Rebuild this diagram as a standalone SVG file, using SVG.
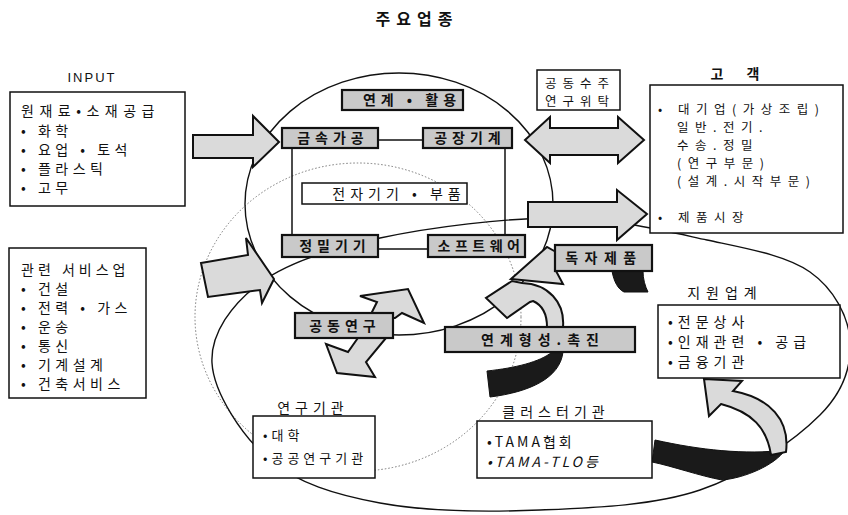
<svg xmlns="http://www.w3.org/2000/svg" width="848" height="515" viewBox="0 0 848 515">
<defs>
<style>
text{font-family:"Noto Sans CJK KR","Noto Sans",sans-serif;fill:#111;font-size:14px}
.t{font-weight:bold;font-size:16px;letter-spacing:6px}
.lb{font-size:14px;letter-spacing:4.5px}
.sm{font-size:12.5px;letter-spacing:6.5px}
.bx{fill:#fff;stroke:#111;stroke-width:1.5}
.gb{fill:#c9c9c9;stroke:#111;stroke-width:2.2}
.gt{font-weight:bold;font-size:14px;letter-spacing:5px;text-anchor:middle}
.ar{fill:#dadada;stroke:#111;stroke-width:2;stroke-linejoin:miter}
.el{fill:none;stroke:#111;stroke-width:1.4}
.dt{fill:none;stroke:#777;stroke-width:1;stroke-dasharray:1.5 2}
.ln{stroke:#111;stroke-width:1.5;fill:none}
.blk{fill:#1a1a1a;stroke:#111;stroke-width:1}
</style>
</defs>
<rect width="848" height="515" fill="#fff"/>
<text x="417" y="25" class="t" text-anchor="middle">주요업종</text>

<g id="connectors">
<ellipse class="dt" cx="358" cy="317" rx="163" ry="154"/>
<ellipse class="el" cx="399" cy="204" rx="154" ry="131"/>
<path class="el" d="M212,363 C210.3,333.5 232,303.8 260,283 C288,262.2 330,248.8 380,238 C430,227.2 505.5,217.7 560,218 C614.5,218.3 665.3,231 707,240 C748.7,249 786.2,255.3 810,272 C833.8,288.7 848.3,316.2 850,340 C851.7,363.8 845,390 820,415 C795,440 746.7,474.2 700,490 C653.3,505.8 593.3,507.8 540,510 C486.7,512.2 425,511.3 380,503 C335,494.7 298,483.3 270,460 C242,436.7 213.7,392.5 212,363 Z"/>
<line class="ln" x1="378" y1="140" x2="423" y2="140"/>
<line class="ln" x1="292" y1="148" x2="292" y2="235"/>
<line class="ln" x1="505" y1="148" x2="505" y2="235"/>
<line class="ln" x1="378" y1="249" x2="428" y2="249"/>
<polygon class="ar" points="193,135 253,135 253,116 279,142 253,167 253,158 193,158"/>
<polygon class="ar" points="201,263 248,255 246,238 274,279 262,303 260,290 208,297"/>
<polygon class="ar" points="525,140 550,117 550,128 618,128 618,117 644,140 618,163 618,155 550,155 550,163"/>
<polygon class="ar" points="528,202 617,202 617,190 647,214 617,240 617,227 528,227"/>
<polygon class="ar" points="369,318 377,302 360,296 408,289 424,323 402,313 395,318"/>
<polygon class="ar" points="360,335 348,352 326,344 337,373 375,377 366,362 386,338"/>
<path class="blk" d="M612,271 C614,282 618,289 624,292 L648,292 C645,286 643,279 643,271 Z"/>
<path class="ar" d="M556,252 L547,247 L511,279 L563,284 L556,271 Z"/>
<path class="blk" d="M487,371 C515,368 540,362 552,352 L563,352 C560,378 530,392 490,397 Z"/>
<path class="ar" d="M563,327 C565,302 548,284 522,283 L512,281 L486,298 L507,318 L530,302 L533,301 C542,305 547,314 547,327 Z"/>
<path class="blk" d="M655,440 C700,450 745,455 785,450 C775,465 745,478 722,480 C700,476 672,466 652,462 Z"/>
<path class="ar" d="M786,452 C790,420 770,398 733,391 L742,381 L704,379 L709,416 L721,404 C752,412 767,428 771,455 Z"/>
</g>

<g id="input">
<text x="92" y="82" text-anchor="middle" style="font-family:'Liberation Sans',sans-serif;font-size:13px;letter-spacing:2px">INPUT</text>
<rect class="bx" x="10" y="92" width="175" height="114"/>
<text class="lb" x="21" y="116" style="letter-spacing:5.5px">원재료•소재공급</text>
<text class="lb" x="21" y="136">• 화학</text>
<text class="lb" x="21" y="155">• 요업 • 토석</text>
<text class="lb" x="21" y="174">• 플라스틱</text>
<text class="lb" x="21" y="193">• 고무</text>
</g>

<g id="services">
<rect class="bx" x="9" y="248" width="137" height="150"/>
<text class="lb" x="21" y="275" style="letter-spacing:4px">관련 서비스업</text>
<text class="lb" x="21" y="294">• 건설</text>
<text class="lb" x="21" y="313">• 전력 • 가스</text>
<text class="lb" x="21" y="332">• 운송</text>
<text class="lb" x="21" y="351">• 통신</text>
<text class="lb" x="21" y="370">• 기계설계</text>
<text class="lb" x="21" y="389">• 건축서비스</text>
</g>

<g id="yeongye"><rect class="gb" x="342" y="90" width="121" height="20"/><text class="gt" x="412" y="105">연계 • 활용</text></g>
<g id="geumsok"><rect class="gb" x="282" y="128" width="96" height="20"/><text class="gt" x="333" y="143">금속가공</text></g>
<g id="gongjang"><rect class="gb" x="423" y="128" width="89" height="20"/><text class="gt" x="470" y="143">공장기계</text></g>
<g id="jeonja"><rect class="bx" x="302" y="183" width="165" height="21"/><text class="lb" x="399" y="199" text-anchor="middle" style="letter-spacing:5px">전자기기 • 부품</text></g>
<g id="jeongmil"><rect class="gb" x="282" y="235" width="96" height="22"/><text class="gt" x="335" y="251">정밀기기</text></g>
<g id="software"><rect class="gb" x="428" y="235" width="97" height="22"/><text class="gt" x="481" y="251" style="letter-spacing:4.5px">소프트웨어</text></g>
<g id="gongdong"><rect class="gb" x="295" y="313" width="98" height="25"/><text class="gt" x="345" y="331">공동연구</text></g>
<g id="dokja"><rect class="gb" x="555" y="245" width="97" height="26"/><text class="gt" x="604" y="263" style="letter-spacing:6.5px">독자제품</text></g>
<g id="yeongyehyeongseong"><rect class="gb" x="445" y="327" width="190" height="25"/><text class="gt" x="543" y="345" style="letter-spacing:6px">연계형성.촉진</text></g>

<g id="gongdongsuju">
<rect class="bx" x="537" y="70" width="83" height="40"/>
<text class="sm" x="580" y="88" text-anchor="middle" style="letter-spacing:6px">공동수주</text>
<text class="sm" x="580" y="106" text-anchor="middle" style="letter-spacing:6px">연구위탁</text>
</g>

<g id="customer">
<text class="lb" x="740" y="79" text-anchor="middle" style="font-weight:bold;letter-spacing:10px">고 객</text>
<rect class="bx" x="650" y="85" width="193" height="148"/>
<text class="sm" x="658" y="114">• 대기업(가상조립)</text>
<text class="sm" x="677" y="132">일반.전기.</text>
<text class="sm" x="677" y="150">수송.정밀</text>
<text class="sm" x="677" y="168">(연구부문)</text>
<text class="sm" x="677" y="186">(설계.시작부문)</text>
<text class="sm" x="658" y="222">• 제품시장</text>
</g>

<g id="support">
<text class="lb" x="725" y="298" text-anchor="middle" style="letter-spacing:6px">지원업계</text>
<rect class="bx" x="658" y="305" width="182" height="73"/>
<text class="lb" x="668" y="327" style="letter-spacing:5px">•전문상사</text>
<text class="lb" x="668" y="347" style="letter-spacing:5px">•인재관련 • 공급</text>
<text class="lb" x="668" y="367" style="letter-spacing:5px">•금융기관</text>
</g>

<g id="research">
<text class="lb" x="313" y="413" text-anchor="middle" style="letter-spacing:5px">연구기관</text>
<rect class="bx" x="253" y="416" width="122" height="62"/>
<text class="lb" x="263" y="440" style="font-size:13px;letter-spacing:4px">•대학</text>
<text class="lb" x="263" y="463" style="font-size:13px;letter-spacing:4px">•공공연구기관</text>
</g>

<g id="cluster">
<text class="lb" x="556" y="417" text-anchor="middle" style="letter-spacing:5px">클러스터기관</text>
<rect class="bx" x="477" y="421" width="175" height="57"/>
<text class="lb" x="487" y="447" style="letter-spacing:3px">•TAMA협회</text>
<text class="lb" x="487" y="467" style="letter-spacing:3px;font-style:italic">•TAMA-TLO등</text>
</g>
</svg>
